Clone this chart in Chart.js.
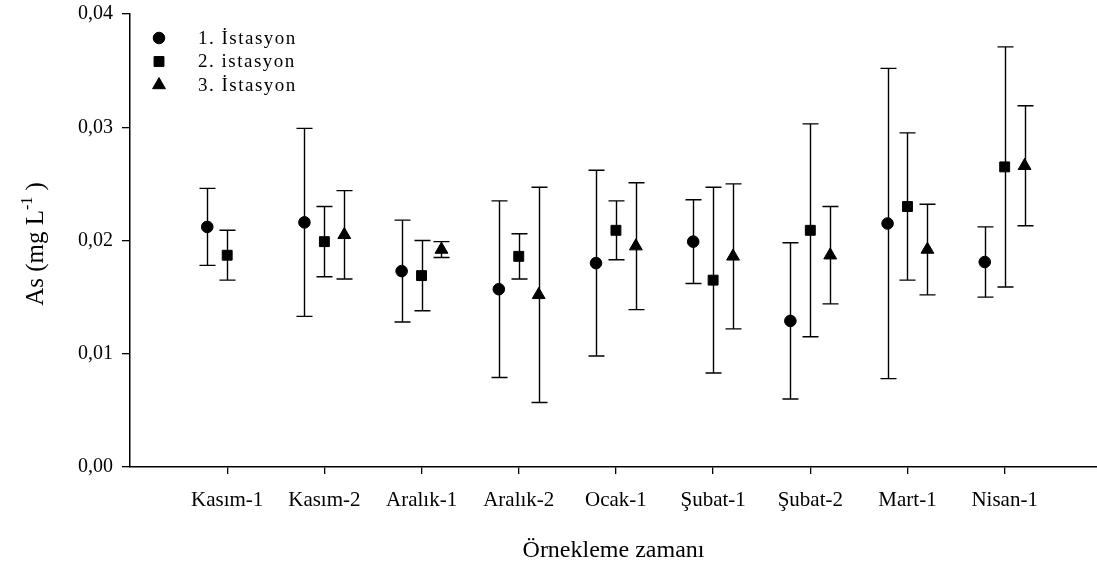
<!DOCTYPE html>
<html>
<head>
<meta charset="UTF-8">
<title>As (mg L-1) - Örnekleme zamanı</title>
<script src="https://cdn.jsdelivr.net/npm/chart.js@4/dist/chart.umd.min.js"></script>
<style>
    html, body { margin: 0; padding: 0; background: #fff; }
    canvas { display: block; }
</style>
</head>
<body>
<canvas id="asChart" width="1097" height="567"></canvas>
<script>
// Sampling times on the x axis
const categories = ['Kasım-1', 'Kasım-2', 'Aralık-1', 'Aralık-2', 'Ocak-1', 'Şubat-1', 'Şubat-2', 'Mart-1', 'Nisan-1'];

// Station names
const stationNames = ['1. İstasyon', '2. istasyon', '3. İstasyon'];

// Mean As values (mg/L) per station
const station1Mean = [0.0212, 0.0216, 0.0173, 0.0157, 0.0180, 0.0199, 0.0129, 0.0215, 0.0181];
const station2Mean = [0.0187, 0.0199, 0.0169, 0.0186, 0.0209, 0.0165, 0.0209, 0.0230, 0.0265];
const station3Mean = [null, 0.0205, 0.0192, 0.0152, 0.0195, 0.0186, 0.0187, 0.0192, 0.0266];

// Standard deviations
const station1Sd = [0.0034, 0.0083, 0.0045, 0.0078, 0.0082, 0.0037, 0.0069, 0.0137, 0.0031];
const station2Sd = [0.0022, 0.0031, 0.0031, 0.0020, 0.0026, 0.0082, 0.0094, 0.0065, 0.0106];
const station3Sd = [null, 0.0039, 0.0007, 0.0095, 0.0056, 0.0064, 0.0043, 0.0040, 0.0053];

// Y axis ticks
const yTickValues = [0, 0.01, 0.02, 0.03, 0.04];
const yTickLabels = ['0,00', '0,01', '0,02', '0,03', '0,04'];

const means = [station1Mean, station2Mean, station3Mean];
const sds = [station1Sd, station2Sd, station3Sd];
const markerStyles = ['circle', 'rect', 'triangle'];
const markerRadius = [5.8, 7, 7.4];
const groupShift = [-0.205, 0, 0.205];
const FONT = "'Liberation Serif', 'Times New Roman', serif";

function buildPoints(s) {
    const pts = [];
    means[s].forEach((m, i) => {
        if (m === null) return;
        pts.push({ x: i + groupShift[s], y: m, sd: sds[s][i] });
    });
    return pts;
}

const datasets = stationNames.map((name, s) => ({
    label: name,
    data: buildPoints(s),
    showLine: false,
    pointStyle: markerStyles[s],
    pointRadius: markerRadius[s],
    pointHoverRadius: markerRadius[s],
    pointBackgroundColor: '#000',
    pointBorderColor: '#000',
    pointBorderWidth: 1
}));

// vertical error bars with caps, drawn under the markers
const errorBars = {
    id: 'errorBars',
    beforeDatasetsDraw(chart) {
        const ctx = chart.ctx;
        const yScale = chart.scales.y;
        ctx.save();
        ctx.strokeStyle = '#000';
        ctx.lineWidth = 1.4;
        chart.data.datasets.forEach((ds, d) => {
            const meta = chart.getDatasetMeta(d);
            ds.data.forEach((p, i) => {
                const el = meta.data[i];
                if (!el) return;
                const x = Math.round(el.x) + 0.5;
                const top = yScale.getPixelForValue(p.y + p.sd);
                const bot = yScale.getPixelForValue(p.y - p.sd);
                ctx.beginPath();
                ctx.moveTo(x, top);
                ctx.lineTo(x, bot);
                ctx.moveTo(x - 8, top);
                ctx.lineTo(x + 8, top);
                ctx.moveTo(x - 8, bot);
                ctx.lineTo(x + 8, bot);
                ctx.stroke();
            });
        });
        ctx.restore();
    }
};

// legend in the upper left corner of the plot
const cornerLegend = {
    id: 'cornerLegend',
    afterDraw(chart) {
        const ctx = chart.ctx;
        ctx.save();
        chart.data.datasets.forEach((ds, d) => {
            const y = 38 + d * 23.5;
            ctx.fillStyle = '#000';
            ctx.strokeStyle = '#000';
            ctx.lineWidth = 1;
            Chart.helpers.drawPoint(ctx, {
                pointStyle: ds.pointStyle,
                radius: ds.pointRadius,
                borderWidth: 1,
                rotation: 0
            }, 159, y);
            ctx.font = '19px ' + FONT;
            ctx.letterSpacing = '1.5px';
            ctx.textBaseline = 'middle';
            ctx.textAlign = 'left';
            ctx.fillText(ds.label, 198, y + 1);
        });
        ctx.restore();
    }
};

// rotated y title with a superscript exponent
const yTitle = {
    id: 'yTitle',
    afterDraw(chart) {
        const ctx = chart.ctx;
        const main = 'As (mg L';
        const sup = '-1';
        const tail = ' )';
        const mainFont = '25px ' + FONT;
        const supFont = '16px ' + FONT;
        ctx.save();
        ctx.font = mainFont;
        const wMain = ctx.measureText(main).width;
        const wTail = ctx.measureText(tail).width;
        ctx.font = supFont;
        const wSup = ctx.measureText(sup).width;
        const total = wMain + wSup + wTail;
        ctx.translate(43, 244);
        ctx.rotate(-Math.PI / 2);
        ctx.fillStyle = '#000';
        ctx.textBaseline = 'alphabetic';
        ctx.textAlign = 'left';
        let x = -total / 2;
        ctx.font = mainFont;
        ctx.fillText(main, x, 0);
        x += wMain;
        ctx.font = supFont;
        ctx.fillText(sup, x, -11);
        x += wSup;
        ctx.font = mainFont;
        ctx.fillText(tail, x, 0);
        ctx.restore();
    }
};

new Chart(document.getElementById('asChart'), {
    type: 'scatter',
    data: { datasets },
    plugins: [errorBars, cornerLegend, yTitle],
    options: {
        responsive: false,
        animation: false,
        devicePixelRatio: 1,
        layout: {
            autoPadding: false,
            padding: { top: 14, right: 0, left: 0, bottom: 0 }
        },
        plugins: {
            legend: { display: false },
            tooltip: { enabled: false }
        },
        scales: {
            x: {
                type: 'linear',
                min: -1,
                max: 8.95,
                afterBuildTicks(scale) {
                    scale.ticks = categories.map((c, i) => ({ value: i }));
                },
                afterFit(scale) {
                    scale.height = 100;
                    scale.paddingLeft = 0;
                    scale.paddingRight = 0;
                },
                ticks: {
                    color: '#000',
                    padding: 14,
                    maxRotation: 0,
                    autoSkip: false,
                    font: { family: FONT, size: 21 },
                    callback: (v) => categories[v]
                },
                grid: {
                    display: true,
                    drawOnChartArea: false,
                    drawTicks: true,
                    tickLength: 7,
                    color: '#000',
                    lineWidth: 1.3
                },
                border: { display: true, color: '#000', width: 1.5 },
                title: {
                    display: true,
                    text: 'Örnekleme zamanı',
                    color: '#000',
                    font: { family: FONT, size: 24 },
                    padding: { top: 0, bottom: 2 }
                }
            },
            y: {
                min: 0,
                max: 0.04,
                afterBuildTicks(scale) {
                    scale.ticks = yTickValues.map(v => ({ value: v }));
                },
                afterFit(scale) {
                    scale.width = 130;
                    scale.paddingTop = 0;
                    scale.paddingBottom = 0;
                },
                ticks: {
                    color: '#000',
                    padding: 9,
                    font: { family: FONT, size: 20 },
                    callback: (v) => yTickLabels[yTickValues.indexOf(v)]
                },
                grid: {
                    display: true,
                    drawOnChartArea: false,
                    drawTicks: true,
                    tickLength: 8,
                    color: '#000',
                    lineWidth: 1.3
                },
                border: { display: true, color: '#000', width: 1.5 }
            }
        }
    }
});
</script>
</body>
</html>
